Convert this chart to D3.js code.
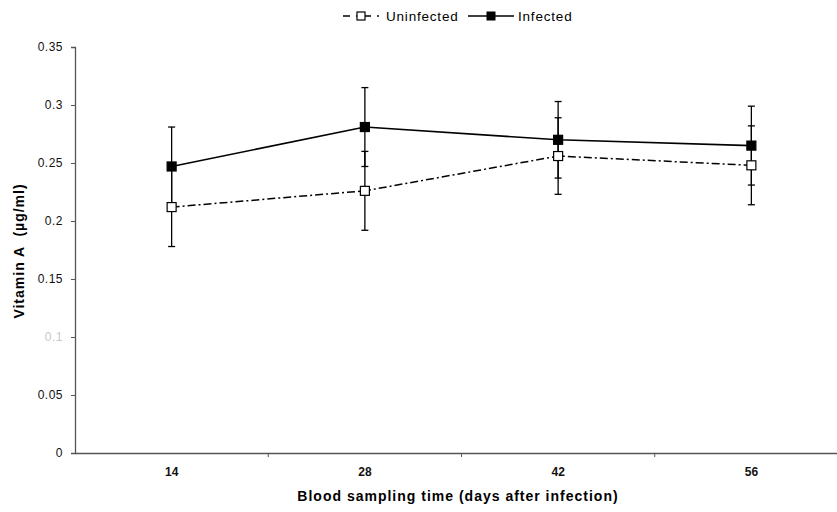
<!DOCTYPE html>
<html>
<head>
<meta charset="utf-8">
<script src="https://cdn.jsdelivr.net/npm/d3@7"></script>
<style>
  body { margin: 0; background: #fff; }
  svg { font-family: "Liberation Sans", Arial, sans-serif; }
</style>
</head>
<body>
<div id="chart"></div>
<script>
// values
var days = ["14", "28", "42", "56"];
var uninfected = [0.212, 0.226, 0.256, 0.248];
var infected = [0.247, 0.281, 0.270, 0.265];
var uninfectedErr = [0.034, 0.034, 0.033, 0.034];
var infectedErr = [0.034, 0.034, 0.033, 0.034];
var yTicks = [0, 0.05, 0.1, 0.15, 0.2, 0.25, 0.3, 0.35];

let width = 837;
let height = 512;

var svg = d3.select("#chart")
    .append("svg")
    .attr("width", width)
    .attr("height", height);

//scales - x axis runs off the right edge like in the original
var x = d3.scaleBand().domain(days).range([75, 848]);
var y = d3.scaleLinear().domain([0, 0.35]).range([453, 47]);

//y axis
var yAxis = svg.append("g")
    .attr("transform", "translate(75,0)")
    .call(d3.axisLeft(y).tickValues(yTicks).tickSize(4).tickPadding(8)
        .tickFormat(d => d == 0 ? "0" : String(d)));
yAxis.select(".domain").attr("stroke", "#555").attr("stroke-width", 1.3);
yAxis.selectAll(".tick line").attr("stroke", "#555");
yAxis.selectAll(".tick text")
    .attr("fill", d => d == 0.1 ? "#c8c8c8" : "#111")
    .style("font-size", "12px")
    .style("letter-spacing", "0.5px");

//x axis - labels in band centres, ticks on band edges
var xAxis = svg.append("g")
    .attr("transform", "translate(0,453)")
    .call(d3.axisBottom(x).tickSize(0).tickPadding(14));
xAxis.select(".domain").attr("stroke", "#555").attr("stroke-width", 1.3);
xAxis.selectAll(".tick text")
    .style("font-size", "12px")
    .style("font-weight", "bold")
    .attr("fill", "#111");
svg.append("g").selectAll("line.edge")
    .data(days.slice(1))
    .enter().append("line")
    .attr("class", "edge")
    .attr("x1", d => x(d)).attr("x2", d => x(d))
    .attr("y1", 453).attr("y2", 457)
    .attr("stroke", "#555");

//axis titles
svg.append("text")
    .attr("x", 458).attr("y", 501)
    .style("text-anchor", "middle")
    .style("font-size", "14px")
    .style("font-weight", "bold")
    .style("letter-spacing", "1px")
    .text("Blood sampling time (days after infection)");

svg.append("text")
    .attr("transform", "translate(24,251) rotate(-90)")
    .style("text-anchor", "middle")
    .style("font-size", "14px")
    .style("font-weight", "bold")
    .style("letter-spacing", "1px")
    .style("white-space", "pre")
    .text("Vitamin A  (µg/ml)");

var cx = d => x(d) + x.bandwidth() / 2;

//error bars for both series
function errorBars(vals, errs) {
    var g = svg.append("g").attr("stroke", "#000").attr("stroke-width", 1.3);
    days.forEach((d, i) => {
        let top = y(vals[i] + errs[i]);
        let bot = y(vals[i] - errs[i]);
        g.append("line").attr("x1", cx(d)).attr("x2", cx(d)).attr("y1", top).attr("y2", bot);
        g.append("line").attr("x1", cx(d) - 3.5).attr("x2", cx(d) + 3.5).attr("y1", top).attr("y2", top);
        g.append("line").attr("x1", cx(d) - 3.5).attr("x2", cx(d) + 3.5).attr("y1", bot).attr("y2", bot);
    });
}
errorBars(infected, infectedErr);
errorBars(uninfected, uninfectedErr);

var line = d3.line().x((v, i) => cx(days[i])).y(v => y(v));

svg.append("path")
    .datum(uninfected)
    .attr("d", line)
    .attr("fill", "none")
    .attr("stroke", "#000")
    .attr("stroke-width", 1.5)
    .attr("stroke-dasharray", "8,3,2,3");

svg.append("path")
    .datum(infected)
    .attr("d", line)
    .attr("fill", "none")
    .attr("stroke", "#000")
    .attr("stroke-width", 1.6);

//markers
function markers(vals, fill) {
    svg.append("g").selectAll("rect")
        .data(vals)
        .enter().append("rect")
        .attr("x", (v, i) => cx(days[i]) - 4.5)
        .attr("y", v => y(v) - 4.5)
        .attr("width", 9).attr("height", 9)
        .attr("fill", fill)
        .attr("stroke", "#000")
        .attr("stroke-width", 1.2);
}
markers(uninfected, "#fff");
markers(infected, "#000");

//legend at the top
var legend = svg.append("g");
legend.append("line")
    .attr("x1", 343).attr("x2", 380).attr("y1", 16).attr("y2", 16)
    .attr("stroke", "#000").attr("stroke-width", 1.5)
    .attr("stroke-dasharray", "7,6,2,6");
legend.append("rect")
    .attr("x", 357).attr("y", 12).attr("width", 8).attr("height", 8)
    .attr("fill", "#fff").attr("stroke", "#000").attr("stroke-width", 1.2);
legend.append("text")
    .attr("x", 386).attr("y", 20.5)
    .style("font-size", "13.5px")
    .style("letter-spacing", "0.8px")
    .text("Uninfected");
legend.append("line")
    .attr("x1", 468).attr("x2", 514).attr("y1", 16).attr("y2", 16)
    .attr("stroke", "#000").attr("stroke-width", 1.5);
legend.append("rect")
    .attr("x", 487).attr("y", 12).attr("width", 8).attr("height", 8)
    .attr("fill", "#000").attr("stroke", "#000");
legend.append("text")
    .attr("x", 518).attr("y", 20.5)
    .style("font-size", "13.5px")
    .style("letter-spacing", "0.8px")
    .text("Infected");
</script>
</body>
</html>
